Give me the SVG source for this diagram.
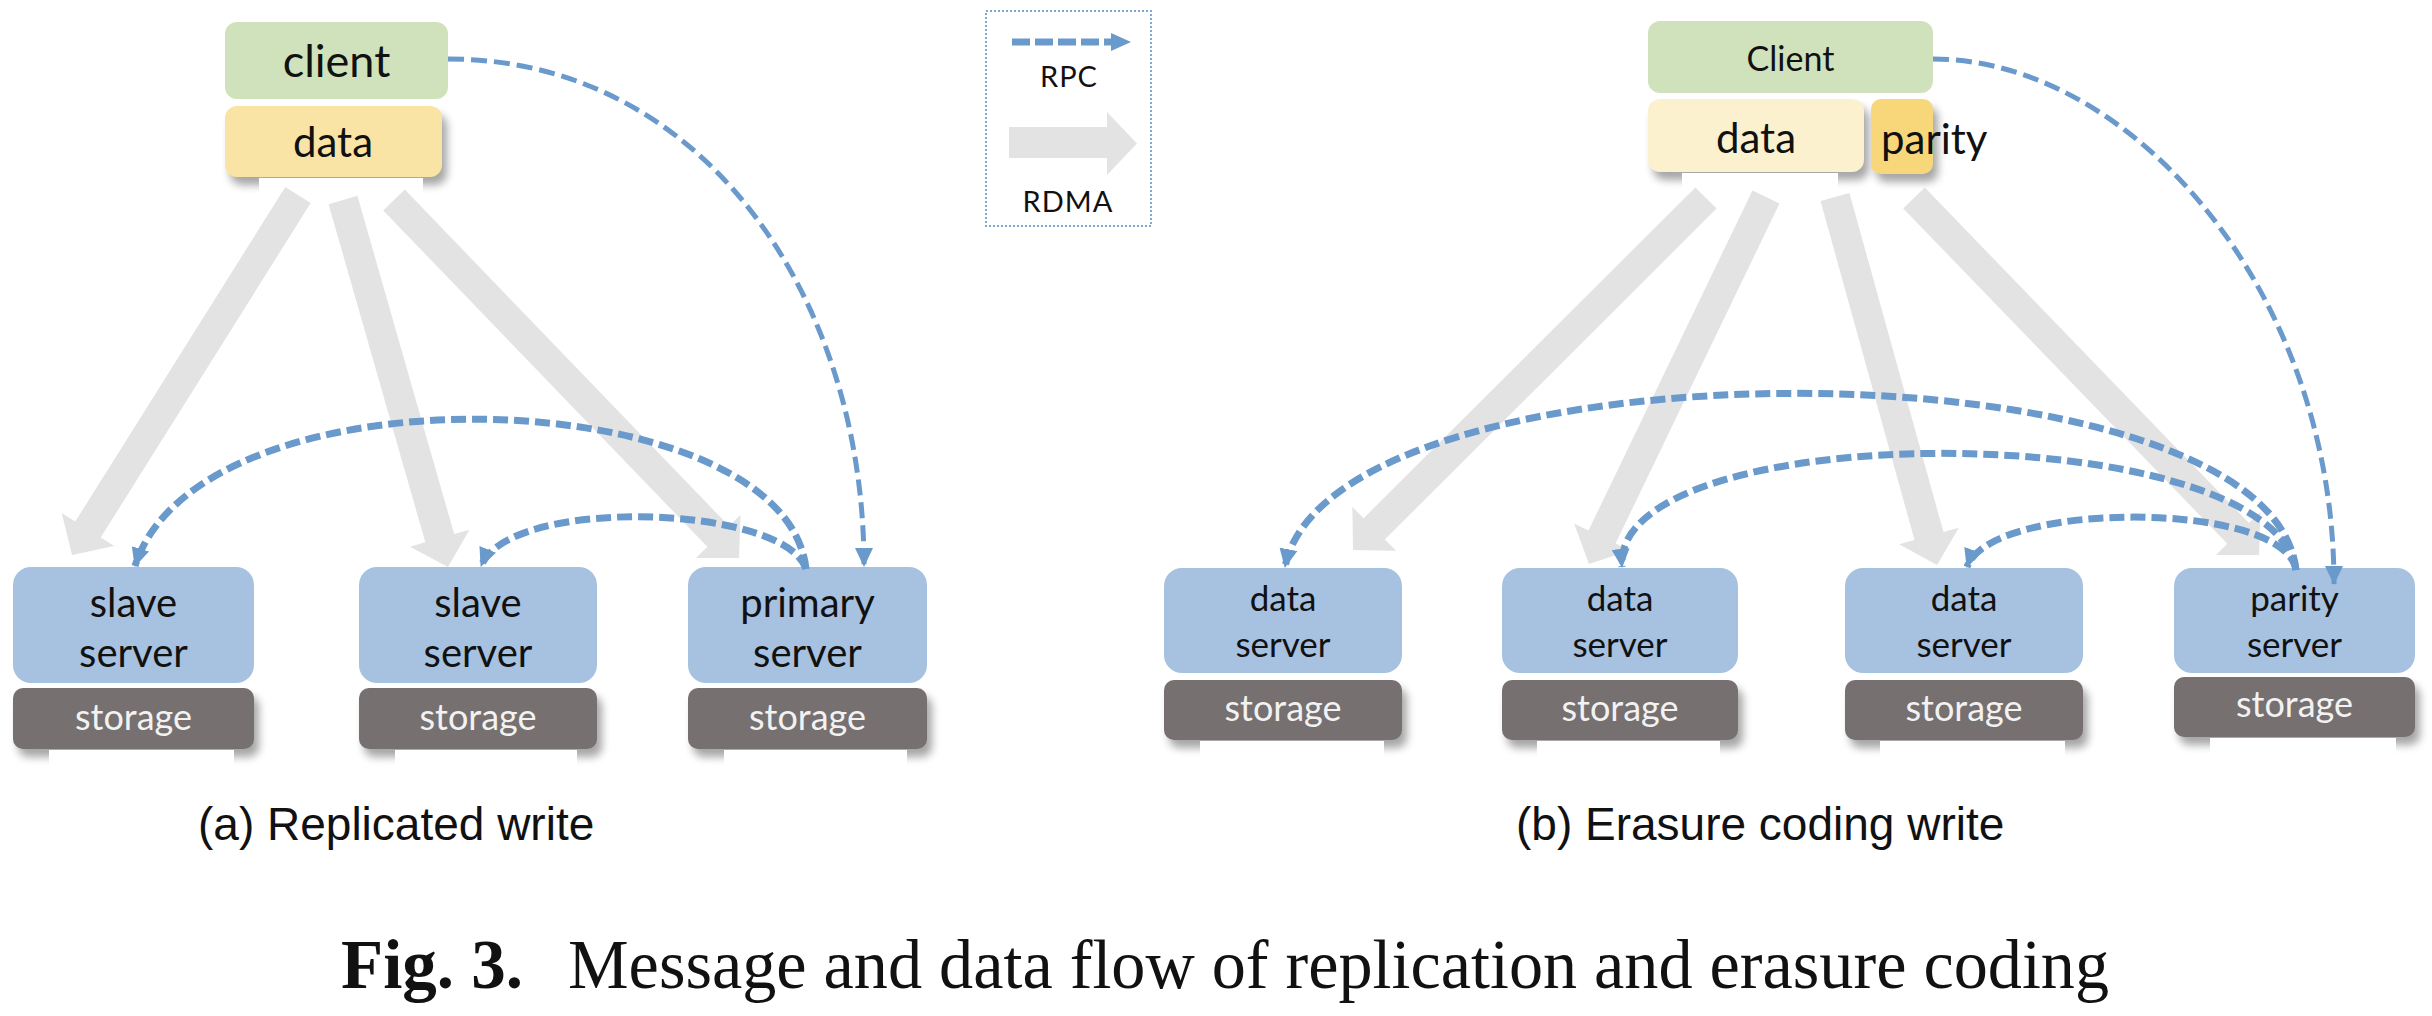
<svg xmlns="http://www.w3.org/2000/svg" width="2432" height="1016" viewBox="0 0 2432 1016">
<style>
.cl{font-family:Lato,"Open Sans","Noto Sans",sans-serif;fill:#111;text-anchor:middle}
.st{font-family:Lato,"Open Sans","Noto Sans",sans-serif;fill:#f2f2f2;text-anchor:middle;font-size:36px}
.sv{font-family:Lato,"Open Sans","Noto Sans",sans-serif;fill:#111;text-anchor:middle}
.srv{fill:#a7c1e0}
.sto{fill:#767070}
.rdma{fill:#e3e3e3}
.rpc{fill:none;stroke:#6a99cb;stroke-width:7;stroke-dasharray:15 6}
.rpct{fill:none;stroke:#6a99cb;stroke-width:5;stroke-dasharray:16 7}
.cap{font-family:"Liberation Sans",Arial,sans-serif;font-size:46px;fill:#111}
.shadow{fill:#000;opacity:0.35;filter:url(#blur)}
.mask{fill:#fff}
</style>
<defs>
<filter id="blur" x="-20%" y="-20%" width="140%" height="140%"><feGaussianBlur stdDeviation="4"/></filter>
<marker id="ah" markerUnits="userSpaceOnUse" markerWidth="19" markerHeight="18" refX="18" refY="9" orient="auto"><path d="M0,0 L19,9 L0,18 z" fill="#6a99cb"/></marker>
</defs>
<rect width="2432" height="1016" fill="#fff"/>

<g id="shadows">
<rect class="shadow" x="230" y="114" width="217" height="71" rx="12"/>
<rect class="shadow" x="18" y="696" width="241" height="61" rx="10"/>
<rect class="shadow" x="364" y="696" width="238" height="61" rx="10"/>
<rect class="shadow" x="693" y="696" width="239" height="61" rx="10"/>
<rect class="shadow" x="1653" y="107" width="216" height="73" rx="12"/>
<rect class="shadow" x="1876" y="107" width="62" height="75" rx="10"/>
<rect class="shadow" x="1169" y="688" width="238" height="60" rx="10"/>
<rect class="shadow" x="1507" y="688" width="236" height="60" rx="10"/>
<rect class="shadow" x="1850" y="688" width="238" height="60" rx="10"/>
<rect class="shadow" x="2179" y="685" width="241" height="60" rx="10"/>
<rect class="mask" x="259" y="178" width="164" height="20"/>
<rect class="mask" x="49" y="750" width="185" height="20"/>
<rect class="mask" x="395" y="750" width="182" height="20"/>
<rect class="mask" x="724" y="750" width="183" height="20"/>
<rect class="mask" x="1682" y="173" width="156" height="22"/>
<rect class="mask" x="1200" y="741" width="184" height="20"/>
<rect class="mask" x="1537" y="741" width="183" height="20"/>
<rect class="mask" x="1880" y="741" width="185" height="20"/>
<rect class="mask" x="2210" y="738" width="186" height="20"/>
</g>

<g id="rdma-connectors">
<polygon class="rdma" points="285.29,187.02 75.24,521.61 61.69,513.11 72,555 114.21,546.07 100.66,537.57 310.71,202.98"/>
<polygon class="rdma" points="328.58,204.13 425.33,542.29 409.95,546.69 448,567 469.55,529.63 454.17,534.03 357.42,195.87"/>
<polygon class="rdma" points="383.20,210.41 707.38,546.81 695.86,557.91 739,558 740.50,514.89 728.98,525.99 404.80,189.59"/>
<polygon class="rdma" points="1695.41,187.38 1363.65,518.20 1352.35,506.87 1353,550 1396.13,550.77 1384.83,539.44 1716.59,208.62"/>
<polygon class="rdma" points="1752.49,190.48 1588.52,530.46 1574.11,523.51 1589,564 1629.95,550.45 1615.54,543.50 1779.51,203.52"/>
<polygon class="rdma" points="1820.54,201.01 1914.53,540.10 1899.12,544.37 1937,565 1958.86,527.81 1943.45,532.08 1849.46,192.99"/>
<polygon class="rdma" points="1903.21,208.42 2227.36,543.85 2215.86,554.97 2259,555 2260.44,511.89 2248.94,523.01 1924.79,187.58"/>
</g>

<g id="left-client"><rect x="225" y="22" width="223" height="77" rx="12" fill="#cfe2bc"/><text class="cl" x="336.5" y="77" font-size="45">client</text></g>
<g id="left-data"><rect x="225" y="106" width="217" height="71" rx="12" fill="#f9e4a5"/><text class="cl" x="333" y="157" font-size="42">data</text></g>
<g id="left-slave-server-1"><rect class="srv" x="13" y="567" width="241" height="116" rx="18"/><text class="sv" x="133.5" y="617" font-size="40">slave</text><text class="sv" x="133.5" y="667" font-size="40">server</text></g>
<g id="left-storage-1"><rect class="sto" x="13" y="688" width="241" height="61" rx="10"/><text class="st" x="133.5" y="730">storage</text></g>
<g id="left-slave-server-2"><rect class="srv" x="359" y="567" width="238" height="116" rx="18"/><text class="sv" x="478" y="617" font-size="40">slave</text><text class="sv" x="478" y="667" font-size="40">server</text></g>
<g id="left-storage-2"><rect class="sto" x="359" y="688" width="238" height="61" rx="10"/><text class="st" x="478" y="730">storage</text></g>
<g id="left-primary-server"><rect class="srv" x="688" y="567" width="239" height="116" rx="18"/><text class="sv" x="807.5" y="617" font-size="40">primary</text><text class="sv" x="807.5" y="667" font-size="40">server</text></g>
<g id="left-storage-3"><rect class="sto" x="688" y="688" width="239" height="61" rx="10"/><text class="st" x="807.5" y="730">storage</text></g>

<g id="legend">
<rect x="986" y="11" width="165" height="215" fill="none" stroke="#7ea6d6" stroke-width="2" stroke-dasharray="2 2"/>
<line x1="1012" y1="42" x2="1113" y2="42" stroke="#6a99cb" stroke-width="7" stroke-dasharray="18 5"/>
<polygon points="1111,33 1131,42 1111,51" fill="#6a99cb"/>
<text class="cl" x="1069" y="87" font-size="29" letter-spacing="1">RPC</text>
<polygon class="rdma" points="1009,127 1107,127 1107,112 1137,143.5 1107,175 1107,158 1009,158"/>
<text class="cl" x="1068" y="212" font-size="29" letter-spacing="1">RDMA</text>
</g>

<g id="right-client"><rect x="1648" y="21" width="285" height="72" rx="12" fill="#cfe2bc"/><text class="cl" x="1790.5" y="71" font-size="34">Client</text></g>
<g id="right-data"><rect x="1648" y="99" width="216" height="73" rx="12" fill="#fcf1cf"/><text class="cl" x="1756" y="153" font-size="42">data</text></g>
<g id="right-parity"><rect x="1871" y="99" width="62" height="75" rx="10" fill="#f8d77b"/><text class="cl" x="1881" y="154" font-size="42" style="text-anchor:start">parity</text></g>
<g id="right-data-server-1"><rect class="srv" x="1164" y="568" width="238" height="105" rx="18"/><text class="sv" x="1283" y="611" font-size="35">data</text><text class="sv" x="1283" y="657" font-size="35">server</text></g>
<g id="right-storage-1"><rect class="sto" x="1164" y="680" width="238" height="60" rx="10"/><text class="st" x="1283" y="721">storage</text></g>
<g id="right-data-server-2"><rect class="srv" x="1502" y="568" width="236" height="105" rx="18"/><text class="sv" x="1620" y="611" font-size="35">data</text><text class="sv" x="1620" y="657" font-size="35">server</text></g>
<g id="right-storage-2"><rect class="sto" x="1502" y="680" width="236" height="60" rx="10"/><text class="st" x="1620" y="721">storage</text></g>
<g id="right-data-server-3"><rect class="srv" x="1845" y="568" width="238" height="105" rx="18"/><text class="sv" x="1964" y="611" font-size="35">data</text><text class="sv" x="1964" y="657" font-size="35">server</text></g>
<g id="right-storage-3"><rect class="sto" x="1845" y="680" width="238" height="60" rx="10"/><text class="st" x="1964" y="721">storage</text></g>
<g id="right-parity-server"><rect class="srv" x="2174" y="568" width="241" height="105" rx="18"/><text class="sv" x="2294.5" y="611" font-size="35">parity</text><text class="sv" x="2294.5" y="657" font-size="35">server</text></g>
<g id="right-storage-4"><rect class="sto" x="2174" y="677" width="241" height="60" rx="10"/><text class="st" x="2294.5" y="717">storage</text></g>

<g id="rpc-connectors">
<path class="rpct" d="M448,59 C705,59 864,300 864,566" marker-end="url(#ah)"/>
<path class="rpc" d="M806,569 C786,380 200,360 135,566" marker-end="url(#ah)"/>
<path class="rpc" d="M806,569 C786,505 510,495 481,566" marker-end="url(#ah)"/>
<path class="rpct" d="M1933,59 C2130,59 2334,290 2334,584" marker-end="url(#ah)"/>
<path class="rpc" d="M2296,570 C2270,335 1330,335 1285,567" marker-end="url(#ah)"/>
<path class="rpc" d="M2296,570 C2270,415 1610,415 1622,567" marker-end="url(#ah)"/>
<path class="rpc" d="M2296,570 C2285,500 1990,500 1967,567" marker-end="url(#ah)"/>
</g>

<g id="captions">
<text class="cap" x="198" y="840">(a) Replicated write</text>
<text class="cap" x="1516" y="840">(b) Erasure coding write</text>
<text x="341" y="988" font-family="'Liberation Serif','Times New Roman',serif" font-size="69" fill="#111"><tspan font-weight="bold">Fig. 3.</tspan><tspan x="568" textLength="1541" lengthAdjust="spacingAndGlyphs">Message and data flow of replication and erasure coding</tspan></text>
</g>
</svg>
